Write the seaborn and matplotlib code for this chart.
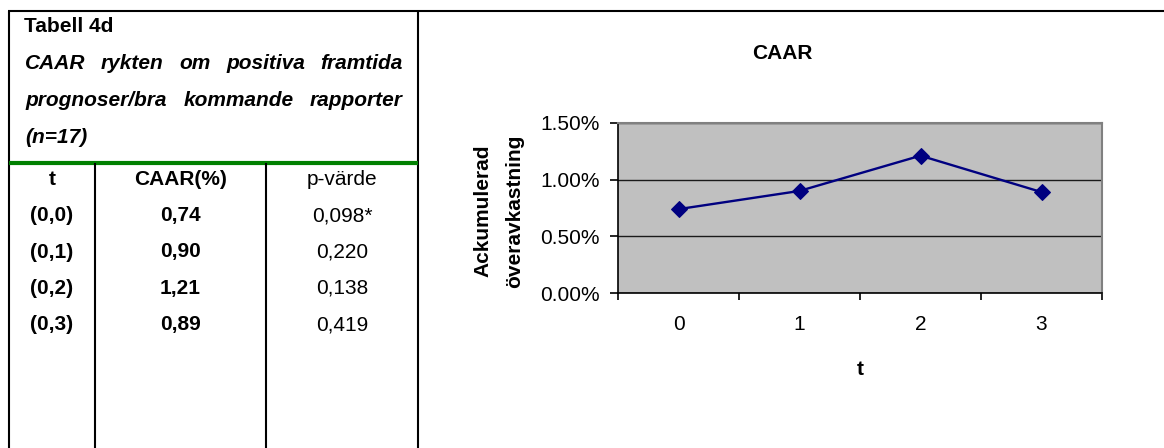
import matplotlib
matplotlib.use("Agg")
import matplotlib.pyplot as plt
from matplotlib.lines import Line2D
from matplotlib.ticker import PercentFormatter, FixedLocator
import seaborn as sns
import pandas as pd

# ---- data ----
t_labels = ["0", "1", "2", "3"]
caar_pct = [0.74, 0.90, 1.21, 0.89]
window_labels = ["(0,0)", "(0,1)", "(0,2)", "(0,3)"]
caar_text = ["0,74", "0,90", "1,21", "0,89"]
p_values = ["0,098*", "0,220", "0,138", "0,419"]

table_title = "Tabell 4d"
caption_lines = ["CAAR rykten om positiva framtida",
                 "prognoser/bra kommande rapporter"]
caption_last = "(n=17)"
headers = ["t", "CAAR(%)", "p-värde"]

sns.set_theme(style="white")
plt.rcParams["font.family"] = ["Liberation Sans", "DejaVu Sans"]
plt.rcParams["text.color"] = "black"
plt.rcParams["xtick.color"] = "black"
plt.rcParams["ytick.color"] = "black"
plt.rcParams["xtick.labelcolor"] = "black"
plt.rcParams["ytick.labelcolor"] = "black"

W, H = 1164, 448
fig = plt.figure(figsize=(W / 100, H / 100), dpi=100)
FS = 15


def fx(x):
    return x / W


def fy(y):
    return 1 - y / H


def hline(x0, x1, y, color="black", lw=1.5):
    fig.add_artist(Line2D([fx(x0), fx(x1)], [fy(y), fy(y)],
                          transform=fig.transFigure, color=color, lw=lw,
                          solid_capstyle="butt"))


def vline(x, y0, y1, color="black", lw=1.5):
    fig.add_artist(Line2D([fx(x), fx(x)], [fy(y0), fy(y1)],
                          transform=fig.transFigure, color=color, lw=lw,
                          solid_capstyle="butt"))


# ---- frame and table grid ----
hline(8, W, 11.5)
vline(9, 11, H)
vline(418, 11, H)
hline(9, 418, 163, color="#008000", lw=3)
vline(95, 163, H)
vline(266, 163, H)

# ---- table caption ----
fig.text(fx(24), fy(32), table_title, fontsize=FS, fontweight="bold",
         va="baseline", ha="left")

renderer = fig.canvas.get_renderer()
left_x, right_x = 25, 403
for line, base in zip(caption_lines, [69, 106]):
    words = line.split()
    objs = [fig.text(0, 0, w, fontsize=FS, fontweight="bold",
                     fontstyle="italic", va="baseline", ha="left")
            for w in words]
    widths = [o.get_window_extent(renderer).width for o in objs]
    gap = (right_x - left_x - sum(widths)) / (len(words) - 1)
    x = left_x
    for o, wdt in zip(objs, widths):
        o.set_position((fx(x), fy(base)))
        x += wdt + gap
fig.text(fx(left_x), fy(143), caption_last, fontsize=FS, fontweight="bold",
         fontstyle="italic", va="baseline", ha="left")

# ---- table body ----
col_centers = [52, 180.5, 342]
fig.text(fx(col_centers[0]), fy(185), headers[0], fontsize=FS,
         fontweight="bold", ha="center", va="baseline")
fig.text(fx(col_centers[1]), fy(185), headers[1], fontsize=FS,
         fontweight="bold", ha="center", va="baseline")
fig.text(fx(col_centers[2]), fy(185), headers[2], fontsize=FS,
         ha="center", va="baseline")
row_base = [221, 257.5, 293.5, 330]
for yb, w, c, p in zip(row_base, window_labels, caar_text, p_values):
    fig.text(fx(col_centers[0]), fy(yb), w, fontsize=FS, fontweight="bold",
             ha="center", va="baseline")
    fig.text(fx(col_centers[1]), fy(yb), c, fontsize=FS, fontweight="bold",
             ha="center", va="baseline")
    fig.text(fx(col_centers[2]), fy(yb), p, fontsize=FS,
             ha="center", va="baseline")

# ---- chart ----
px0, px1, py0, py1 = 618, 1102, 122.7, 293.3
ax = fig.add_axes([fx(px0), fy(py1), fx(px1 - px0), (py1 - py0) / H])
ax.set_facecolor("#C0C0C0")

df = pd.DataFrame({"t": range(len(t_labels)),
                   "caar": [v / 100 for v in caar_pct]})
sns.lineplot(data=df, x="t", y="caar", ax=ax, color="#000080", lw=1.7,
             marker="D", markersize=8, markeredgecolor="#000080")

ax.set_xlim(-0.5, len(t_labels) - 0.5)
ax.set_ylim(0, 0.015)
ax.set_yticks([0, 0.005, 0.010, 0.015])
ax.yaxis.set_major_formatter(PercentFormatter(1, decimals=2))
ax.set_xticks(range(len(t_labels)))
ax.set_xticklabels(t_labels)
ax.xaxis.set_minor_locator(FixedLocator([i - 0.5 for i in range(len(t_labels) + 1)]))
ax.tick_params(axis="x", which="major", length=0, pad=15.5, labelsize=FS)
ax.tick_params(axis="x", which="minor", length=5, width=1.2,
               direction="out", color="black", bottom=True)
ax.tick_params(axis="y", which="major", length=6, width=1.2,
               direction="out", color="black", left=True, pad=7,
               labelsize=FS)
ax.grid(axis="y", color="#1a1a1a", lw=1)
ax.grid(axis="x", visible=False)
for side in ["top", "right"]:
    ax.spines[side].set_color("#808080")
    ax.spines[side].set_linewidth(1.5)
for side in ["left", "bottom"]:
    ax.spines[side].set_color("black")
    ax.spines[side].set_linewidth(1.2)
ax.set_xlabel("")
ax.set_ylabel("")

fig.text(fx(782), fy(59), "CAAR", fontsize=FS, fontweight="bold",
         ha="center", va="baseline")
fig.text(fx(860), fy(375), "t", fontsize=FS, fontweight="bold",
         ha="center", va="baseline")
fig.text(fx(499), fy(211), "Ackumulerad\növeravkastning", fontsize=FS,
         fontweight="bold", rotation=90, ha="center", va="center",
         multialignment="center", linespacing=1.85)

fig.savefig("out.png", dpi=100)
